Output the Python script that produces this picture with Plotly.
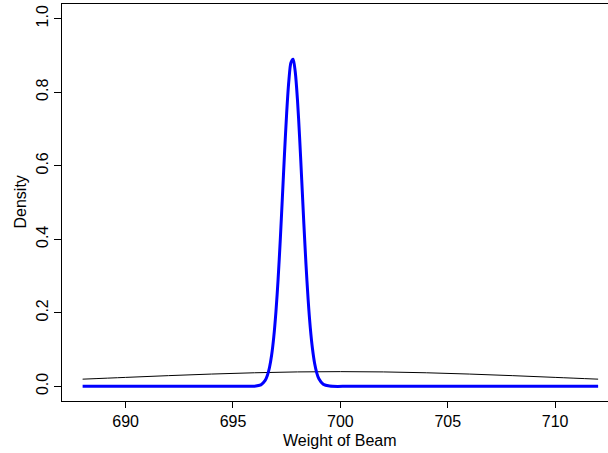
import plotly.graph_objects as go

# Prior density (black thin curve)
prior_x = [688, 690, 692, 694, 696, 698, 700, 702, 704, 706, 708, 710, 712]
prior_y = [0.0194, 0.0242, 0.0290, 0.0333, 0.0368, 0.0391, 0.0399, 0.0391,
           0.0368, 0.0333, 0.0290, 0.0242, 0.0194]

# Posterior density (blue thick curve)
post_x = [688, 695, 696.0, 696.3, 696.5, 696.6, 696.7, 696.8, 696.9, 697.0, 697.1,
          697.2, 697.3, 697.4, 697.5, 697.6, 697.7, 697.8, 697.9, 698.0, 698.1,
          698.2, 698.3, 698.4, 698.5, 698.6, 698.7, 698.8, 698.9, 699.0, 699.2,
          699.5, 700.5, 712]
post_y = [0.0, 0.0, 0.0004, 0.0040, 0.0159, 0.0291, 0.051, 0.0849, 0.1345, 0.2026,
          0.290, 0.396, 0.5135, 0.6336, 0.7435, 0.830, 0.881, 0.890, 0.855, 0.7817,
          0.6795, 0.562, 0.442, 0.331, 0.2354, 0.159, 0.1027, 0.0629, 0.0367,
          0.0203, 0.0054, 0.0005, 0.0, 0.0]

x_ticks = [690, 695, 700, 705, 710]
y_ticks = [0.0, 0.2, 0.4, 0.6, 0.8, 1.0]
x_title = "Weight of Beam"
y_title = "Density"

font = dict(family="Liberation Sans, Arial, sans-serif", size=16, color="black")

fig = go.Figure()
fig.add_trace(go.Scatter(x=prior_x, y=prior_y, mode="lines", line_shape="spline",
                         line=dict(color="black", width=1), showlegend=False,
                         hoverinfo="skip"))
fig.add_trace(go.Scatter(x=post_x, y=post_y, mode="lines", line_shape="spline",
                         line=dict(color="#0000ff", width=3, smoothing=0.8),
                         showlegend=False, hoverinfo="skip"))

fig.update_layout(
    width=608, height=453,
    margin=dict(l=62, r=0, t=4, b=52, pad=0),
    paper_bgcolor="white", plot_bgcolor="white",
    font=font,
    xaxis=dict(range=[687.04, 712.46], tickvals=x_ticks, ticks="outside", ticklen=6,
               tickcolor="black", showline=True, linecolor="black", linewidth=1,
               mirror=True, showgrid=False, zeroline=False, tickfont=font),
    yaxis=dict(range=[-0.04, 1.04], tickvals=y_ticks, tickformat=".1f",
               ticks="outside", ticklen=7, tickcolor="black", tickangle=-90,
               showline=True, linecolor="black", linewidth=1, mirror=False,
               showgrid=False, zeroline=False, tickfont=font),
    annotations=[
        dict(text=x_title, xref="paper", yref="paper", x=(340 - 62) / 546, y=0,
             xanchor="center", yanchor="middle", yshift=-39.5, showarrow=False,
             font=font),
        dict(text=y_title, xref="paper", yref="paper", x=0, y=0.5,
             xanchor="center", yanchor="middle", xshift=-42, textangle=-90,
             showarrow=False, font=font),
    ],
)

fig.write_html("out.html", config={"displayModeBar": False},
               post_script="document.body.style.margin='0';document.body.style.overflow='hidden';")
